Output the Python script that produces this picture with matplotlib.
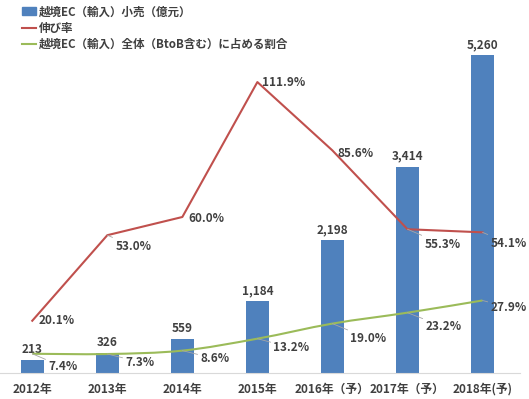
import matplotlib.pyplot as plt
from matplotlib.path import Path
from matplotlib.patches import PathPatch, Patch
from matplotlib.lines import Line2D

plt.rcParams['font.family'] = ['Noto Sans CJK JP', 'DejaVu Sans']
plt.rcParams['font.weight'] = 'bold'

years = ['2012年', '2013年', '2014年', '2015年', '2016年（予）', '2017年（予）', '2018年(予)']
sales = [213, 326, 559, 1184, 2198, 3414, 5260]  # 億元
growth = [20.1, 53.0, 60.0, 111.9, 85.6, 55.3, 54.1]  # %
share = [7.4, 7.3, 8.6, 13.2, 19.0, 23.2, 27.9]  # %

blue = '#4F81BD'
red = '#C0504D'
green = '#9BBB59'
txt = '#404040'

fig = plt.figure(figsize=(5.29, 3.99), dpi=100)
W, H = 529, 399
# axes: x 0..520 px, y 20..373 px (from top)
ax = fig.add_axes([0 / W, 1 - 373 / H, 520 / W, 353 / H])
ax2 = ax.twinx()

x = list(range(len(years)))
ax.bar(x, sales, width=0.31, color=blue, zorder=2)
ax.set_xlim(-0.43, 6.5)
ax.set_ylim(0, 353 / 0.0604)
ax2.set_ylim(0, 353 / 2.6)

for a in (ax, ax2):
    for s in ('top', 'left', 'right'):
        a.spines[s].set_visible(False)
    a.set_yticks([])
ax.spines['bottom'].set_color('#D9D9D9')
ax2.spines['bottom'].set_visible(False)
ax.set_xticks(x)
ax.set_xticklabels(years, fontsize=8.5, color=txt, fontweight='bold')
ax.tick_params(axis='x', length=0, pad=7)

for i, v in enumerate(sales):
    ax.annotate(f'{v:,}', (i, v), xytext=(0, 4), textcoords='offset pixels',
                ha='center', va='bottom', fontsize=8.5, color=txt, fontweight='bold')

# growth line (straight)
ax2.plot(x, growth, color=red, lw=1.5, zorder=3)

# share line (smoothed, like Excel)
pts = list(zip(x, share))
verts = [pts[0]]
codes = [Path.MOVETO]
for i in range(len(pts) - 1):
    p0 = pts[i - 1] if i > 0 else pts[i]
    p1 = pts[i]
    p2 = pts[i + 1]
    p3 = pts[i + 2] if i + 2 < len(pts) else pts[i + 1]
    c1 = (p1[0] + (p2[0] - p0[0]) / 6, p1[1] + (p2[1] - p0[1]) / 6)
    c2 = (p2[0] - (p3[0] - p1[0]) / 6, p2[1] - (p3[1] - p1[1]) / 6)
    verts += [c1, c2, p2]
    codes += [Path.CURVE4] * 3
ax2.add_patch(PathPatch(Path(verts, codes), fill=False, edgecolor=green, lw=1.5, zorder=3))

# labels: offsets in pixels (dx, dy) of text left edge / center, and whether a leader line is drawn
growth_off = [(6, 0), (8, -11), (6, -1), (5, 0), (5, -3), (17, -15), (8, -11)]
growth_lead = [False, True, False, False, False, True, True]
share_off = [(16, -13), (18, -8), (18, -8), (16, -9), (18, -15), (18, -14), (8, -7)]

def label(val, off, lead):
    for i, (v, (dx, dy), ld) in enumerate(zip(val, off, lead)):
        ax2.annotate(f'{v:.1f}%', (i, v), xytext=(dx, dy), textcoords='offset pixels',
                     ha='left', va='center', fontsize=8.5, color=txt, fontweight='bold',
                     zorder=5,
                     arrowprops=dict(arrowstyle='-', color='#A6A6A6', lw=0.6,
                                     shrinkA=0, shrinkB=0) if ld else None)

label(growth, growth_off, growth_lead)
label(share, share_off, [True] * 7)

handles = [Patch(color=blue), Line2D([], [], color=red, lw=1.5), Line2D([], [], color=green, lw=1.5)]
names = ['越境EC（輸入）小売（億元）', '伸び率', '越境EC（輸入）全体（BtoB含む）に占める割合']
leg = fig.legend(handles, names, loc='upper left', bbox_to_anchor=(20 / W, 1 - 3 / H),
                 frameon=False, fontsize=8.3, handlelength=1.2, handletextpad=0.25,
                 labelspacing=0.3, borderaxespad=0, borderpad=0.2)
for t in leg.get_texts():
    t.set_color(txt)
    t.set_fontweight('bold')

plt.savefig('out.png', dpi=100)
